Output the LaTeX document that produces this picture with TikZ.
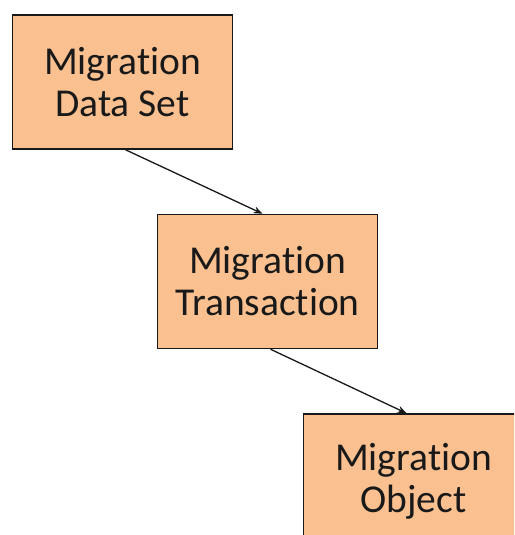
\documentclass[tikz,border=0pt]{standalone}
\usepackage{fontspec}
\setmainfont{Carlito}[Ligatures=NoCommon]
\usetikzlibrary{positioning,arrows.meta}
\definecolor{boxFill}{RGB}{250,192,143}
\definecolor{boxLine}{RGB}{25,25,25}

\begin{document}
\begin{tikzpicture}[
    x=1pt, y=1pt,
    node distance=64pt,
    stage/.style={draw=boxLine, line width=1.5pt, fill=boxFill, align=center, minimum width=220pt, minimum height=134pt, inner sep=0pt, text=boxLine, font=\fontsize{39.5}{42}\selectfont},
    link/.style={-{Stealth[length=9pt,width=7pt]}, line width=1.3pt, draw=boxLine}
  ]
  \clip (0,0) rectangle (514,535);
  \fill[white] (0,0) rectangle (514,535);

  \node[stage] (ds) at (122.5,453) {Migration\\Data Set};
  \node[stage, below=of ds, xshift=145pt] (tr) {Migration\\Transaction};
  \node[stage, below=of tr, xshift=146pt] (ob) {Migration\\Object};

  \draw[link] ([xshift=3pt]ds.south) -- ([xshift=-5pt]tr.north);
  \draw[link] ([xshift=3pt]tr.south) -- ([xshift=-7pt]ob.north);
\end{tikzpicture}
\end{document}
